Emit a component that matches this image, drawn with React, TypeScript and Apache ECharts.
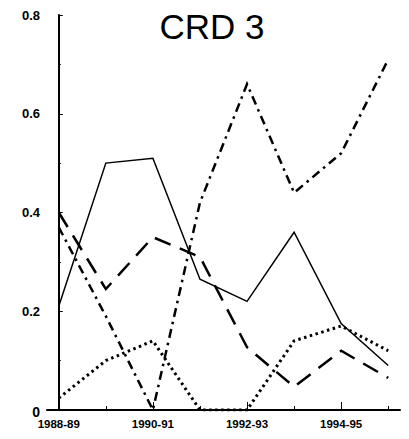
import React, { useEffect, useRef } from "react";
import * as echarts from "echarts";

const titleText = "CRD 3";
const categories = ["1988-89", "1989-90", "1990-91", "1991-92", "1992-93", "1993-94", "1994-95", "1995-96"];
const labelledIndices = [0, 2, 4, 6];
const minorIndices = [1, 3, 5, 7];
const yTicks = [0, 0.2, 0.4, 0.6, 0.8];

const solidValues = [0.21, 0.5, 0.51, 0.265, 0.22, 0.36, 0.175, 0.09];
const dashDotValues = [0.37, 0.19, 0, 0.42, 0.66, 0.44, 0.52, 0.71];
const longDashValues = [0.4, 0.245, 0.35, 0.31, 0.127, 0.047, 0.12, 0.065];
const dottedValues = [0.024, 0.1, 0.14, 0, 0, 0.14, 0.17, 0.12];

const FONT = "'Liberation Sans', Arial, Helvetica, sans-serif";

export default function App() {
  const ref = useRef<HTMLDivElement>(null);

  useEffect(() => {
    if (!ref.current) return;
    const chart = echarts.init(ref.current, null, { renderer: "svg" });
    const toPairs = (vals: number[]) => vals.map((v, i) => [i, v]);
    const mk = (vals: number[], width: number, type: any, cap: any = "butt") => ({
      type: "line",
      data: toPairs(vals),
      symbol: "none",
      silent: true,
      lineStyle: { color: "#000", width, type, cap, join: "miter" },
    });

    chart.setOption({
      animation: false,
      backgroundColor: "#fff",
      title: {
        text: titleText,
        left: 207,
        textAlign: "center",
        top: 4,
        textStyle: { fontFamily: FONT, fontSize: 35, fontWeight: "normal", color: "#000" },
      },
      grid: { left: 47, right: 9, top: 15, bottom: 29, containLabel: false },
      xAxis: [
        {
          type: "value",
          min: -0.25,
          max: 7.25,
          splitLine: { show: false },
          axisLine: { show: true, lineStyle: { color: "#000", width: 2 } },
          axisTick: {
            show: true,
            inside: true,
            length: 8,
            customValues: labelledIndices,
            lineStyle: { color: "#000", width: 1 },
          },
          axisLabel: {
            show: true,
            customValues: labelledIndices,
            margin: 8,
            color: "#000",
            fontFamily: FONT,
            fontSize: 11.5,
            fontWeight: "bold",
            formatter: (v: number) => categories[Math.round(v)] ?? "",
          },
        },
        {
          type: "value",
          min: -0.25,
          max: 7.25,
          position: "bottom",
          splitLine: { show: false },
          axisLine: { show: false },
          axisTick: {
            show: true,
            inside: true,
            length: 4,
            customValues: minorIndices,
            lineStyle: { color: "#000", width: 1 },
          },
          axisLabel: { show: false },
        },
      ],
      yAxis: {
        type: "value",
        min: 0,
        max: 0.8,
        interval: 0.2,
        splitLine: { show: false },
        axisLine: { show: true, lineStyle: { color: "#000", width: 2 } },
        axisTick: { show: true, inside: true, length: 4, lineStyle: { color: "#000", width: 1 } },
        minorTick: { show: true, splitNumber: 2, length: 2, lineStyle: { color: "#000", width: 1 } },
        axisLabel: {
          margin: 7,
          color: "#000",
          fontFamily: FONT,
          fontSize: 13,
          fontWeight: "bold",
          formatter: (v: number) => {
            const t = yTicks.find((y) => Math.abs(y - v) < 1e-9);
            if (t === undefined) return "";
            return t === 0 ? "{z|0}" : t.toFixed(1);
          },
          rich: { z: { fontFamily: FONT, fontSize: 14, fontWeight: "bold", color: "#000", padding: [4, 0, 0, 0] } },
        },
      },
      series: [
        mk(solidValues, 1.5, "solid"),
        mk(dashDotValues, 2.5, [9, 5, 2.5, 5]),
        mk(longDashValues, 2.5, [17, 10]),
        mk(dottedValues, 3, [2.5, 3.5]),
      ],
    });
    return () => chart.dispose();
  }, []);

  return (
    <div
      ref={ref}
      style={{ position: "absolute", left: 0, top: 0, width: 409, height: 439, background: "#fff" }}
    />
  );
}
